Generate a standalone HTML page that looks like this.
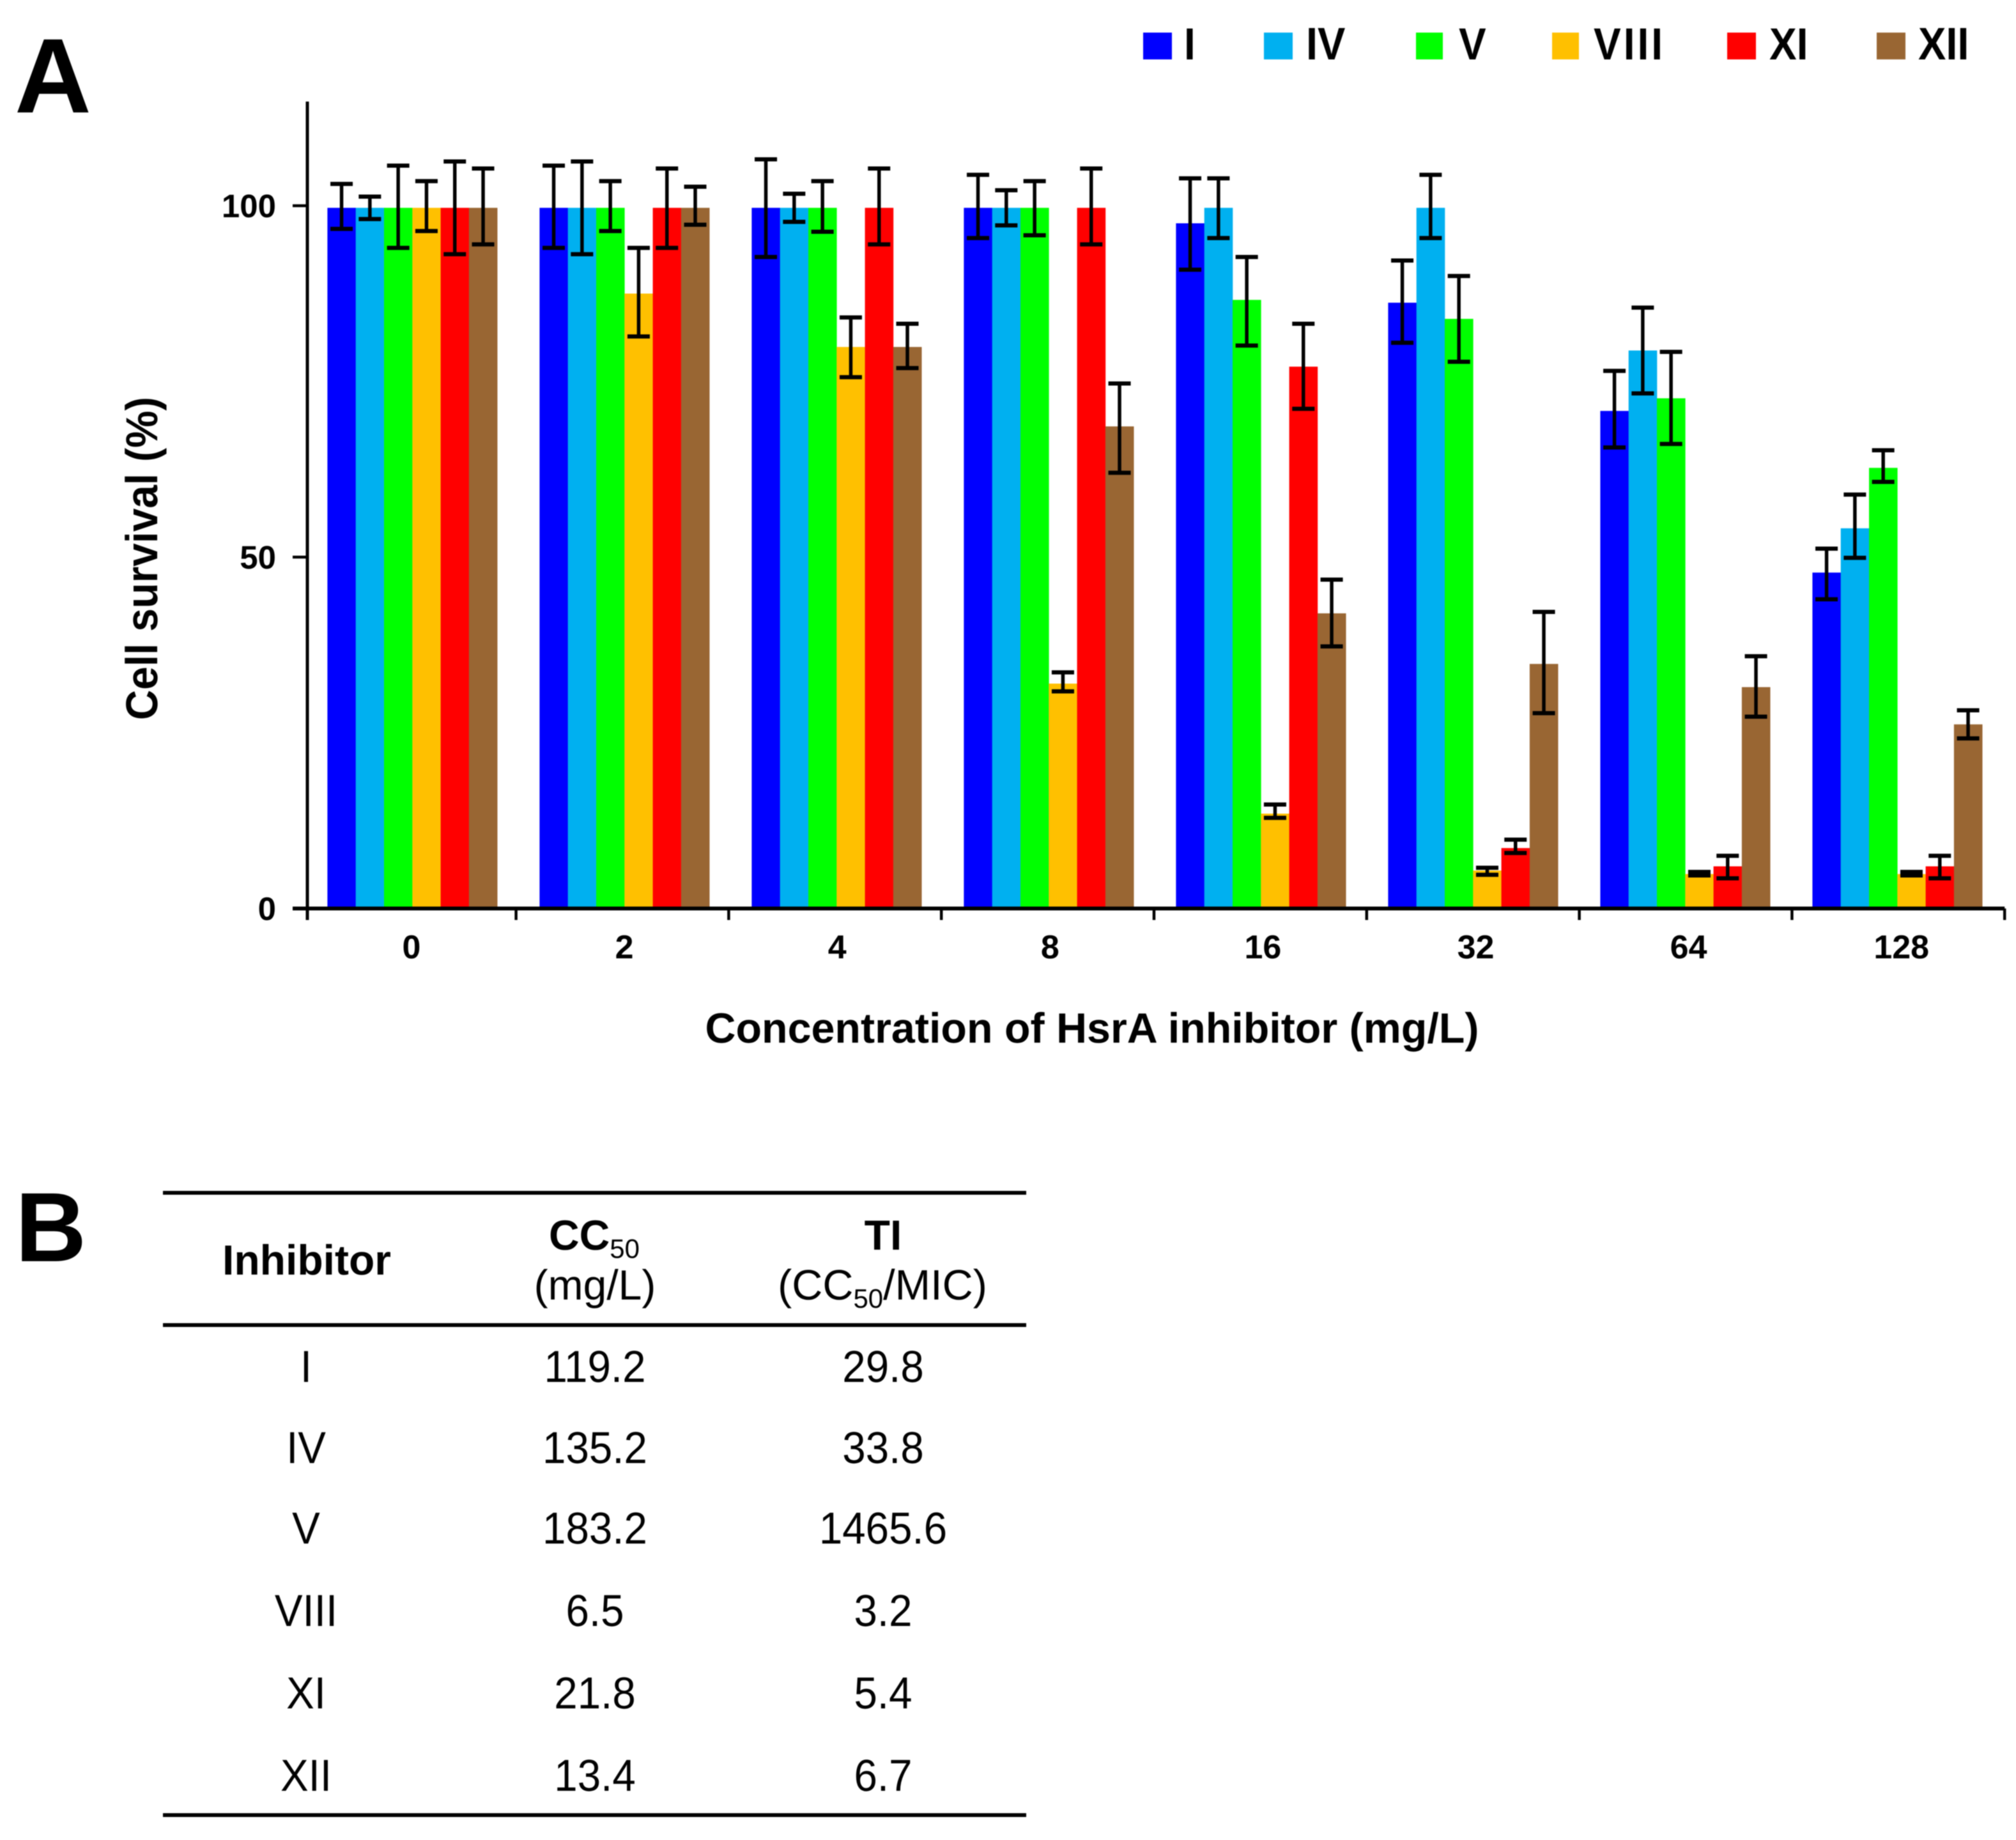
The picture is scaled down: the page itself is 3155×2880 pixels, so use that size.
<!DOCTYPE html>
<html lang="en">
<head>
<meta charset="utf-8">
<title>Cell survival and HsrA inhibitor table</title>
<style>
html,body{margin:0;padding:0;background:#fff;width:3155px;height:2880px;overflow:hidden}
svg{display:block;filter:blur(0.8px)}
text{font-family:"Liberation Sans",Arial,sans-serif;fill:#000;text-rendering:geometricPrecision}
.b{font-weight:700}
</style>
</head>
<body>
<svg id="figure" xmlns="http://www.w3.org/2000/svg" width="3155" height="2880" viewBox="0 0 3155 2880">
  <rect width="3155" height="2880" fill="#fff"/>
  <text class="b" x="23" y="176" font-size="166">A</text>
  <text class="b" x="24" y="1974" font-size="154">B</text>

  <g id="chart"></g>

  <text class="b" transform="translate(246,874) rotate(-90) scale(1,1.07)" text-anchor="middle" font-size="65.5">Cell survival (%)</text>
  <text class="b" x="1709" y="1632" text-anchor="middle" font-size="66.4">Concentration of HsrA inhibitor (mg/L)</text>

  <g>
    <g><rect x="1789" y="51" width="45" height="42" fill="#0000ff"/><text class="b" transform="translate(1853,93) scale(1,1.1)" font-size="64">I</text></g>
    <g><rect x="1978" y="51" width="45" height="42" fill="#00b0f0"/><text class="b" transform="translate(2044,93) scale(1,1.1)" font-size="65">IV</text></g>
    <g><rect x="2216" y="51" width="42" height="42" fill="#00ff00"/><text class="b" transform="translate(2283,93) scale(1,1.1)" font-size="64">V</text></g>
    <g><rect x="2429" y="51" width="42" height="42" fill="#ffc000"/><text class="b" transform="translate(2494,93) scale(1,1.1)" font-size="64" letter-spacing="4">VIII</text></g>
    <g><rect x="2703" y="51" width="45" height="42" fill="#ff0000"/><text class="b" transform="translate(2769,93) scale(1,1.1)" font-size="64">XI</text></g>
    <g><rect x="2937" y="51" width="45" height="42" fill="#996633"/><text class="b" transform="translate(3002,93) scale(1,1.1)" font-size="65">XII</text></g>
  </g>

  <g>
    <rect x="255" y="1864" width="1351" height="6" fill="#000"/>
    <rect x="255" y="2071" width="1351" height="6" fill="#000"/>
    <rect x="255" y="2838" width="1351" height="6" fill="#000"/>

    <text class="b" x="480" y="1995" text-anchor="middle" font-size="66">Inhibitor</text>
    <text x="930" y="1956" text-anchor="middle" font-size="66"><tspan class="b">CC</tspan><tspan font-size="42" dy="13">50</tspan></text>
    <text x="931" y="2034" text-anchor="middle" font-size="66">(mg/L)</text>
    <text class="b" x="1382" y="1956" text-anchor="middle" font-size="66">TI</text>
    <text x="1381" y="2034" text-anchor="middle" font-size="66.6">(CC<tspan font-size="42" dy="13">50</tspan><tspan dy="-13">/MIC)</tspan></text>

    <g text-anchor="middle" font-size="65.5">
      <text transform="translate(479,2163) scale(1,1.07)">I</text>
      <text transform="translate(931,2163) scale(1,1.07)">119.2</text>
      <text transform="translate(1382,2163) scale(1,1.07)">29.8</text>
    </g>
    <g text-anchor="middle" font-size="65.5">
      <text transform="translate(479,2290) scale(1,1.07)">IV</text>
      <text transform="translate(931,2290) scale(1,1.07)">135.2</text>
      <text transform="translate(1382,2290) scale(1,1.07)">33.8</text>
    </g>
    <g text-anchor="middle" font-size="65.5">
      <text transform="translate(479,2416) scale(1,1.07)">V</text>
      <text transform="translate(931,2416) scale(1,1.07)">183.2</text>
      <text transform="translate(1382,2416) scale(1,1.07)">1465.6</text>
    </g>
    <g text-anchor="middle" font-size="65.5">
      <text transform="translate(479,2545) scale(1,1.07)">VIII</text>
      <text transform="translate(931,2545) scale(1,1.07)">6.5</text>
      <text transform="translate(1382,2545) scale(1,1.07)">3.2</text>
    </g>
    <g text-anchor="middle" font-size="65.5">
      <text transform="translate(479,2674) scale(1,1.07)">XI</text>
      <text transform="translate(931,2674) scale(1,1.07)">21.8</text>
      <text transform="translate(1382,2674) scale(1,1.07)">5.4</text>
    </g>
    <g text-anchor="middle" font-size="65.5">
      <text transform="translate(479,2803) scale(1,1.07)">XII</text>
      <text transform="translate(931,2803) scale(1,1.07)">13.4</text>
      <text transform="translate(1382,2803) scale(1,1.07)">6.7</text>
    </g>
  </g>
</svg>

<script>
const categories = ['0', '2', '4', '8', '16', '32', '64', '128'];
const seriesNames = ['I', 'IV', 'V', 'VIII', 'XI', 'XII'];
const yTickValues = [0, 50, 100];

const valuesI    = [99.7, 99.7, 99.7, 99.7, 97.5, 86.2, 70.8, 47.8];
const valuesIV   = [99.7, 99.7, 99.7, 99.7, 99.7, 99.7, 79.4, 54.1];
const valuesV    = [99.7, 99.7, 99.7, 99.7, 86.6, 83.9, 72.6, 62.7];
const valuesVIII = [99.7, 87.5, 79.9, 32.0, 13.5, 5.4, 4.9, 4.9];
const valuesXI   = [99.7, 99.7, 99.7, 99.7, 77.1, 8.6, 6.0, 6.0];
const valuesXII  = [99.7, 99.7, 79.9, 68.6, 42.0, 34.8, 31.5, 26.2];

const upperI    = [103.1, 105.7, 106.6, 104.4, 103.9, 92.2, 76.5, 51.2];
const upperIV   = [101.3, 106.3, 101.7, 102.2, 103.9, 104.4, 85.5, 58.9];
const upperV    = [105.7, 103.5, 103.5, 103.5, 92.7, 90.0, 79.2, 65.2];
const upperVIII = [103.5, 94.0, 84.1, 33.6, 14.8, 5.8, 5.2, 5.2];
const upperXI   = [106.3, 105.3, 105.3, 105.3, 83.2, 9.8, 7.5, 7.5];
const upperXII  = [105.3, 102.7, 83.2, 74.7, 46.8, 42.2, 35.9, 28.2];

const lowerI    = [96.7, 94.0, 92.7, 95.4, 90.9, 80.5, 65.6, 44.0];
const lowerIV   = [98.1, 93.1, 97.7, 97.2, 95.4, 95.4, 73.3, 49.9];
const lowerV    = [94.0, 96.4, 96.3, 95.8, 80.1, 77.8, 66.1, 60.7];
const lowerVIII = [96.4, 81.4, 75.6, 30.9, 12.9, 4.8, 4.7, 4.7];
const lowerXI   = [93.1, 94.0, 94.5, 94.5, 71.1, 7.9, 4.3, 4.3];
const lowerXII  = [94.5, 97.3, 76.9, 62.0, 37.3, 27.8, 27.3, 24.2];

const seriesColors = ['#0000ff', '#00b0f0', '#00ff00', '#ffc000', '#ff0000', '#996633'];

const allValues = [valuesI, valuesIV, valuesV, valuesVIII, valuesXI, valuesXII];
const allUpper = [upperI, upperIV, upperV, upperVIII, upperXI, upperXII];
const allLower = [lowerI, lowerIV, lowerV, lowerVIII, lowerXI, lowerXII];

const NS = 'http://www.w3.org/2000/svg';
const chart = document.getElementById('chart');

const AXIS_LEFT = 481;
const AXIS_BOTTOM = 1422;
const AXIS_TOP = 159;
const GROUP_WIDTH = 332;
const GROUP_PAD = 31.4;
const BAR_WIDTH = 44.3;
const UNIT_HEIGHT = 11;
const CAP_HALF = 17.5;
const TICK_START = 807.6;
const TICK_PITCH = 332.8;
const LABEL_START = 644;
const LABEL_PITCH = 333.1;

function yScale(v) { return AXIS_BOTTOM - v * UNIT_HEIGHT; }
function groupLeft(g) { return AXIS_LEFT + g * GROUP_WIDTH; }
function barLeft(g, s) { return groupLeft(g) + GROUP_PAD + s * BAR_WIDTH; }
function tickX(i) { return TICK_START + i * TICK_PITCH; }
function labelX(c) { return LABEL_START + c * LABEL_PITCH; }

function make(tag, attrs) {
  const el = document.createElementNS(NS, tag);
  for (const k in attrs) el.setAttribute(k, attrs[k]);
  return el;
}

function line(x1, y1, x2, y2, w) {
  return make('line', { x1: x1, y1: y1, x2: x2, y2: y2, stroke: '#000', 'stroke-width': w });
}

// bars
allValues.forEach(function (vals, s) {
  const g = make('g', {});
  
  
  vals.forEach(function (v, c) {
    const r = make('rect', {
      x: barLeft(c, s), y: yScale(v), width: BAR_WIDTH + 0.3,
      height: AXIS_BOTTOM - yScale(v), fill: seriesColors[s]
    });
    
    
    g.appendChild(r);
  });
  chart.appendChild(g);
});

// error bars
allValues.forEach(function (vals, s) {
  const g = make('g', {});
  
  
  vals.forEach(function (v, c) {
    const cx = barLeft(c, s) + BAR_WIDTH / 2;
    const top = yScale(allUpper[s][c]);
    const bottom = yScale(allLower[s][c]);
    const e = make('g', {});
    
    
    e.appendChild(line(cx, top, cx, bottom, 5.5));
    e.appendChild(line(cx - CAP_HALF, top, cx + CAP_HALF, top, 6.5));
    e.appendChild(line(cx - CAP_HALF, bottom, cx + CAP_HALF, bottom, 6.5));
    g.appendChild(e);
  });
  chart.appendChild(g);
});

// axes
const yAxis = line(AXIS_LEFT, AXIS_TOP, AXIS_LEFT, 1440, 5);


chart.appendChild(yAxis);

const xAxis = line(458, AXIS_BOTTOM, tickX(categories.length - 1), AXIS_BOTTOM, 6);


chart.appendChild(xAxis);

yTickValues.forEach(function (t) {
  const tick = line(458, yScale(t), AXIS_LEFT, yScale(t), 4.5);
  
  
  chart.appendChild(tick);
  const label = make('text', { x: 432, y: yScale(t) + 18, 'text-anchor': 'end', 'font-size': 51, class: 'b' });
  label.textContent = t;
  
  
  chart.appendChild(label);
});

categories.forEach(function (cat, i) {
  const tick = line(tickX(i), AXIS_BOTTOM, tickX(i), 1440, 4.5);
  
  
  chart.appendChild(tick);
});

categories.forEach(function (cat, c) {
  const label = make('text', {
    x: labelX(c), y: 1500,
    'text-anchor': 'middle', 'font-size': 52, class: 'b'
  });
  label.textContent = cat;
  
  
  chart.appendChild(label);
});
</script>
</body>
</html>
